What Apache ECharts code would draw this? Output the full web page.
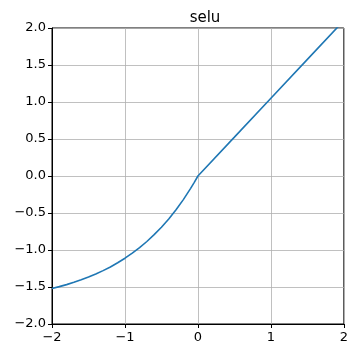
<!DOCTYPE html>
<html>
<head>
<meta charset="utf-8">
<script src="https://cdn.jsdelivr.net/npm/echarts@6/dist/echarts.min.js"></script>
<style>
  html, body { margin: 0; padding: 0; background: #fff; }
  #chart { width: 351px; height: 351px; }
</style>
</head>
<body>
<div id="chart"></div>
<script>
// selu curve samples (x, y)
const xs = [-2.0, -1.9, -1.8, -1.7, -1.6, -1.5, -1.4, -1.3, -1.2, -1.1,
            -1.0, -0.9, -0.8, -0.7, -0.6, -0.5, -0.4, -0.3, -0.2, -0.1,
            -0.05, 0.0, 0.5, 1.0, 1.5, 2.0];
const ys = [-1.520, -1.495, -1.468, -1.437, -1.403, -1.366, -1.325, -1.279, -1.229, -1.173,
            -1.111, -1.043, -0.968, -0.885, -0.793, -0.692, -0.580, -0.456, -0.319, -0.167,
            -0.086, 0.0, 0.525, 1.051, 1.576, 2.101];
const title = 'selu';
const xTicks = [-2, -1, 0, 1, 2];
const yTicks = [-2.0, -1.5, -1.0, -0.5, 0.0, 0.5, 1.0, 1.5, 2.0];

const points = xs.map((x, i) => [x, ys[i]]);
const minus = s => String(s).replace('-', '\u2212');
const font = 'DejaVu Sans';

const chart = echarts.init(document.getElementById('chart'), null, { renderer: 'canvas' });
chart.setOption({
  animation: false,
  backgroundColor: '#fff',
  title: {
    text: title,
    left: 200, top: 6,
    textAlign: 'center',
    textStyle: { fontFamily: font, fontSize: 15, fontWeight: 'normal', color: '#000' }
  },
  grid: {
    left: 52, top: 28, width: 295, height: 296,
    show: true, borderColor: '#000', borderWidth: 1, backgroundColor: 'transparent'
  },
  xAxis: {
    type: 'value', min: xTicks[0], max: xTicks[xTicks.length - 1], interval: 1,
    axisLine: { show: true, onZero: false, lineStyle: { color: '#000', width: 1 } },
    axisTick: { show: true, inside: false, length: 4, lineStyle: { color: '#000' } },
    axisLabel: {
      margin: 7, fontFamily: font, fontSize: 13, color: '#000',
      formatter: v => minus(v.toFixed(0))
    },
    splitLine: { show: true, lineStyle: { color: '#b0b0b0', width: 0.8 } }
  },
  yAxis: {
    type: 'value', min: yTicks[0], max: yTicks[yTicks.length - 1], interval: 0.5,
    axisLine: { show: true, onZero: false, lineStyle: { color: '#000', width: 1 } },
    axisTick: { show: true, inside: false, length: 4, lineStyle: { color: '#000' } },
    axisLabel: {
      margin: 6, fontFamily: font, fontSize: 13, color: '#000',
      formatter: v => minus(v.toFixed(1))
    },
    splitLine: { show: true, lineStyle: { color: '#b0b0b0', width: 0.8 } }
  },
  series: [{
    type: 'line',
    data: points,
    showSymbol: false,
    smooth: false,
    clip: true,
    lineStyle: { color: '#1f77b4', width: 1.6 }
  }]
});
</script>
</body>
</html>
